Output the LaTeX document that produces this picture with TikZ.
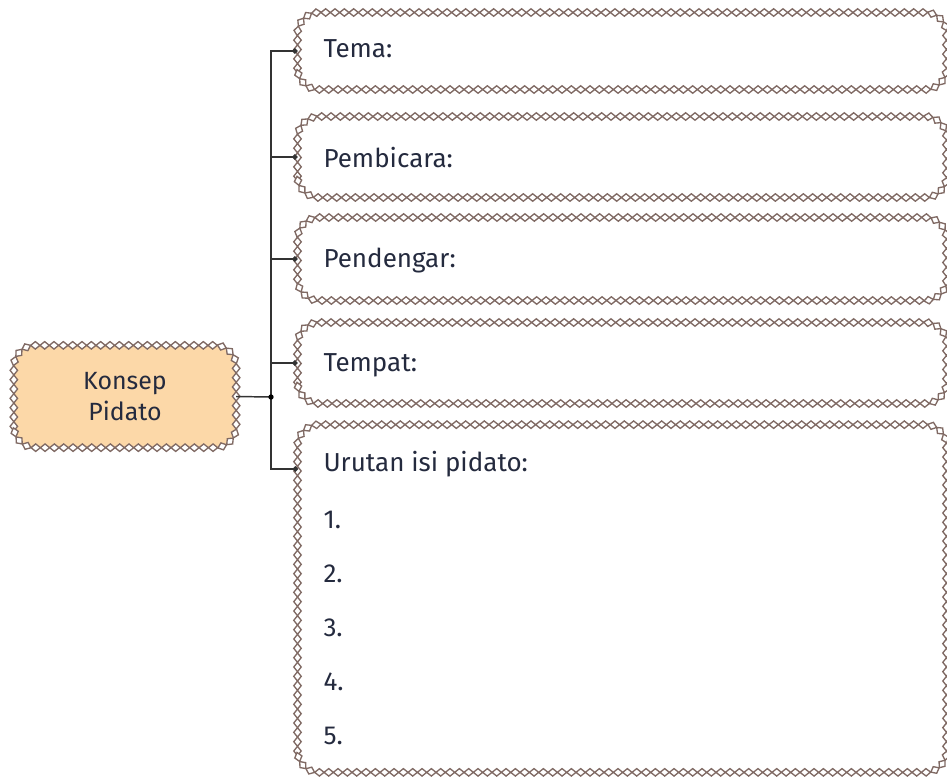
\documentclass[tikz,border=0pt]{standalone}
\usepackage{fontspec}
\setmainfont{Fira Sans}
\usetikzlibrary{decorations.markings,arrows.meta}

\definecolor{chainc}{RGB}{128,106,100}
\definecolor{peach}{RGB}{252,216,168}
\definecolor{inkc}{RGB}{36,42,62}

% one small diamond of the chain border
\newcommand{\chainlink}{%
  \pgfsetcornersarced{\pgfpointorigin}%
  \pgfsetlinewidth{1pt}\pgfsetstrokecolor{chainc}\pgfsetfillcolor{white}%
  \pgfpathmoveto{\pgfpoint{-3.5pt}{0pt}}\pgfpathlineto{\pgfpoint{0pt}{2.8pt}}%
  \pgfpathlineto{\pgfpoint{3.5pt}{0pt}}\pgfpathlineto{\pgfpoint{0pt}{-2.8pt}}%
  \pgfpathclose\pgfusepath{fill,stroke}}

\tikzset{every picture/.style={line width=0.75pt}}
\tikzset{
  box/.style={rectangle, rounded corners=16pt, inner sep=0pt},
  chain/.style={rounded corners=16pt, decorate,
    decoration={markings, mark=between positions 0 and 1 step 7pt with {\chainlink}}},
  txt/.style={anchor=base west, inner sep=0.75pt, text=inkc, font=\fontsize{19.5}{22}\selectfont},
  link/.style={draw=black!80, line width=1.1pt},
}

\begin{document}
\begin{tikzpicture}[x=0.75pt,y=0.75pt,yscale=-1,xscale=1]
\useasboundingbox (0,0) rectangle (947,776);

% Main box
\node[box, fill=peach, minimum width=166pt, minimum height=76pt, align=center, text=inkc,
  font=\fontsize{18.7}{23}\selectfont] (konsep) at (125,396.5) {Konsep\\Pidato};

% Boxes on the right
\node[box, minimum width=486pt, minimum height=57pt] (tema) at (622,51) {};
\node[box, minimum width=486pt, minimum height=60pt] (pembicara) at (622,157) {};
\node[box, minimum width=486pt, minimum height=61.5pt] (pendengar) at (622,259) {};
\node[box, minimum width=486pt, minimum height=60pt] (tempat) at (622,363) {};
\node[box, minimum width=486pt, minimum height=260pt] (isi) at (622,598.5) {};

% Chain borders
\foreach \b in {konsep,tema,pembicara,pendengar,tempat,isi}
  \path[chain] (\b.south west) rectangle (\b.north east);

% Text Node
\node[txt] (t1) at (322,57) {Tema:};
\node[txt] (t2) at (322,167) {Pembicara:};
\node[txt] (t3) at (322,267) {Pendengar:};
\node[txt] (t4) at (322,371) {Tempat:};
\node[txt] (t5) at (322,471) {Urutan isi pidato:};
\foreach \n [count=\i] in {528,582,636,690,744}
  \node[txt] (n\i) at (322,\n) {\i.};

% Connectors
\coordinate (hub) at (271,397);
\coordinate (isi-in) at (298,469);
\draw[link] (konsep.east) -- (hub);
\foreach \b in {tema,pembicara,pendengar,tempat}
  \draw[link, -{Circle[length=4pt]}] (hub) |- (\b.west);
\draw[link, -{Circle[length=4pt]}] (hub) |- (isi-in);
\fill (hub) circle (2pt);
\end{tikzpicture}
\end{document}
